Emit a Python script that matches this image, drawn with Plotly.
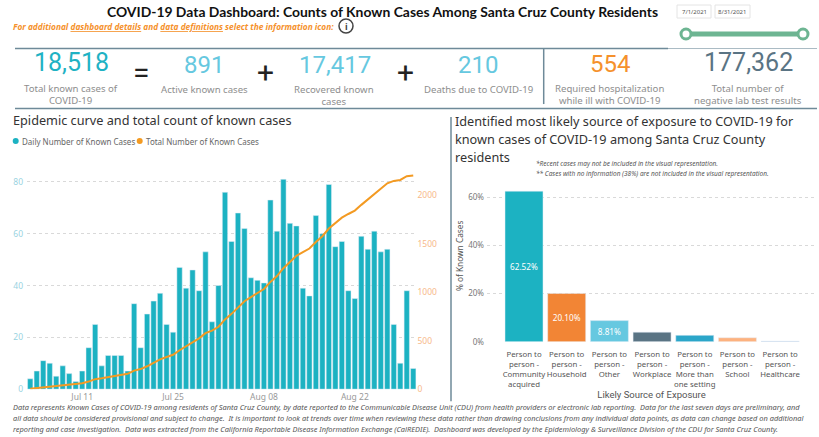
import pandas as pd
import plotly.graph_objects as go

# ---------- data ----------
start_date = "2021-07-03"
end_date = "2021-08-31"
daily_cases = [4, 7, 11, 10, 5, 9, 6, 3, 7, 16, 25, 9, 13, 13, 13, 7, 33, 16, 29, 34, 37, 25, 22,
               47, 39, 46, 38, 53, 26, 40, 76, 57, 68, 62, 43, 42, 41, 73, 61, 81, 64, 63, 39, 36,
               67, 60, 79, 55, 57, 38, 35, 59, 54, 61, 53, 54, 25, 10, 38, 8]
total_cases = [4, 11, 22, 32, 37, 46, 52, 55, 62, 78, 103, 112, 125, 138, 151, 158, 191, 207, 236,
               270, 307, 332, 354, 401, 440, 486, 524, 577, 603, 643, 719, 776, 844, 906, 949, 991,
               1032, 1105, 1166, 1247, 1311, 1374, 1413, 1449, 1516, 1576, 1655, 1710, 1767, 1805,
               1840, 1899, 1953, 2014, 2067, 2121, 2146, 2156, 2194, 2202]
date_ticks = ["2021-07-11", "2021-07-25", "2021-08-08", "2021-08-22"]
date_tick_labels = ["Jul 11", "Jul 25", "Aug 08", "Aug 22"]

source_labels = ["Person to<br>person -<br>Community<br>acquired", "Person to<br>person -<br>Household",
                 "Person to<br>person -<br>Other", "Person to<br>person -<br>Workplace",
                 "Person to<br>person -<br>More than<br>one setting", "Person to<br>person -<br>School",
                 "Person to<br>person -<br>Healthcare"]
source_values = [62.52, 20.10, 8.81, 4.0, 2.7, 1.7, 0.3]
source_text = ["62.52%", "20.10%", "8.81%", "", "", "", ""]
source_colors = ["#1CB2C2", "#F28535", "#66C8E0", "#5A7484", "#2BA6C9", "#FDB27F", "#A9C4E0"]
pct_ticks = [0, 20, 40, 60]
pct_tick_labels = ["0%", "20%", "40%", "60%"]

kpis = [("18,518", "Total known cases of<br>COVID-19", "#1FB2C4", 71, 62, 94),
        ("891", "Active known cases", "#66C8E0", 204, 65, 89),
        ("17,417", "Recovered known<br>cases", "#66C8E0", 335, 65, 95),
        ("210", "Deaths due to COVID-19", "#66C8E0", 478, 65, 89),
        ("554", "Required hospitalization<br>while ill with COVID-19", "#F5912C", 610, 64, 94),
        ("177,362", "Total number of<br>negative lab test results", "#5A7484", 748, 62, 94)]

footer_lines = [
    "Data represents Known Cases of COVID-19 among residents of Santa Cruz County, by date reported to the Communicable Disease Unit (CDU) from health providers or electronic lab reporting.  Data for the last seven days are preliminary, and",
    "all data should be considered provisional and subject to change.  It is important to look at trends over time when reviewing these data rather than drawing conclusions from any individual data points, as data can change based on additional",
    "reporting and case investigation.  Data was extracted from the California Reportable Disease Information Exchange (CalREDIE).  Dashboard was developed by the Epidemiology & Surveillance Division of the CDU for Santa Cruz County.",
]

# ---------- layout helpers ----------
W, H = 819, 437
FONT = "Noto Sans"
K = 1.012
px = lambda x: x / W
py = lambda y: 1 - y * K / H
dates = pd.date_range(start_date, end_date)

fig = go.Figure()
fig.add_trace(go.Bar(x=dates, y=daily_cases, name="Daily Number of Known Cases", marker_color="#1CB2C2",
                     width=0.82 * 86400000, xaxis="x", yaxis="y"))
fig.add_trace(go.Scatter(x=dates, y=total_cases, name="Total Number of Known Cases", mode="lines",
                         line=dict(color="#F39A22", width=2), xaxis="x", yaxis="y2"))
fig.add_trace(go.Bar(x=source_labels, y=source_values, text=source_text, textposition="inside",
                     insidetextanchor="middle", textangle=0, constraintext="none",
                     textfont=dict(color="white", size=8.2, family=FONT),
                     marker_color=source_colors, width=0.89, xaxis="x3", yaxis="y3", showlegend=False))

annotations, shapes = [], []


def text(x, y, s, size, color="#555", anchor="center", family=FONT, **kw):
    annotations.append(dict(xref="paper", yref="paper", x=px(x), y=py(y), text=s, showarrow=False,
                            xanchor=anchor, yanchor="middle", align=anchor if anchor != "center" else "center",
                            font=dict(size=size, color=color, family=family), borderpad=0, **kw))


def line(x0, y0, x1, y1, color="#6E8A99", width=1.5):
    shapes.append(dict(type="line", xref="paper", yref="paper", x0=px(x0), y0=py(y0), x1=px(x1), y1=py(y1),
                       line=dict(color=color, width=width)))


def circle(cx, cy, r, fill, edge, width=1):
    shapes.append(dict(type="circle", xref="paper", yref="paper", x0=px(cx - r), x1=px(cx + r),
                       y0=py(cy - r), y1=py(cy + r), fillcolor=fill, line=dict(color=edge, width=width)))


def box(x0, y0, x1, y1):
    shapes.append(dict(type="rect", xref="paper", yref="paper", x0=px(x0), x1=px(x1), y0=py(y0), y1=py(y1),
                       line=dict(color="#E4E4E4", width=1), fillcolor="white"))


# header
text(382, 11, "<b>COVID-19 Data Dashboard: Counts of Known Cases Among Santa Cruz County Residents</b>", 13.9, "#111", family="Lato")
text(12, 26, "<b><i>For additional <u>dashboard details</u> and <u>data definitions</u> select the information icon:</i></b>",
     8.3, "#F5912C", anchor="left")
circle(346, 26, 7, "white", "#444", 1.5)
text(346, 26, "<b>i</b>", 9, "#444")
box(677, 5, 711, 18)
box(715, 5, 750, 18)
text(694, 11.5, "7/1/2021", 6, "#555")
text(732.5, 11.5, "8/31/2021", 6, "#555")
line(686, 34, 803, 34, "#6DB592", 5)
circle(686, 34, 5, "white", "#6DB592", 3)
circle(803, 34, 5, "white", "#6DB592", 3)

# KPI band
line(15, 48.5, 668, 48.5)
line(668, 48.5, 817, 48.5, "#A9BAC4", 1)
line(15, 108.5, 817, 108.5)
line(543.7, 49, 543.7, 104)
for value, label, color, cx, vy, ly in kpis:
    text(cx, vy, value, 25 if value in ("18,518", "177,362") else 24, color, family="Roboto")
    text(cx - (1 if cx in (335, 610) else 0), ly, label, 9.6, "#8E8E8E")
text(141, 72, "=", 30, "#222", family="Roboto")
text(265, 72, "+", 30, "#222", family="Roboto")
text(405, 72, "+", 30, "#222", family="Roboto")

# section titles
line(451, 117, 451, 401)
text(12, 120, "Epidemic curve and total count of known cases", 12.7, "#333", anchor="left")
text(454, 121, "Identified most likely source of exposure to COVID-19 for", 12.7, "#333", anchor="left")
text(454, 139, "known cases of COVID-19 among Santa Cruz County", 12.7, "#333", anchor="left")
text(454, 157, "residents", 12.7, "#333", anchor="left")
text(535, 163, "<i>*Recent cases may not be included in the visual representation.</i>", 6.5, "#555", anchor="left")
text(535, 173, "<i>** Cases with no information (38%) are not included in the visual representation.</i>", 6.5, "#555", anchor="left")

# legend of the left chart
circle(15.7, 141, 3, "#1CB2C2", "#1CB2C2", 0)
text(21, 141, "Daily Number of Known Cases", 8, "#666", anchor="left")
circle(139.7, 141, 3, "#F39A22", "#F39A22", 0)
text(145, 141, "Total Number of Known Cases", 8, "#666", anchor="left")

# rotated axis caption of the right chart
text(459, 256, "% of Known Cases", 8.3, "#555", textangle=-90)

# footer
for y, s in zip((407, 418, 428.5), footer_lines):
    text(12, y, f"<i>{s}</i>", 7.43, "#555", anchor="left")

GRID = dict(showgrid=True, gridcolor="#D9D9D9", griddash="dot", gridwidth=1, zeroline=False, showline=False, ticks="")
fig.update_layout(
    width=W, height=H, margin=dict(l=0, r=0, t=0, b=0), paper_bgcolor="white", plot_bgcolor="white",
    showlegend=False, barmode="overlay", font=dict(family=FONT), annotations=annotations, shapes=shapes,
    xaxis=dict(domain=[px(27), px(416.5)], anchor="y", type="date", range=["2021-07-02 12:00", "2021-08-31 12:00"],
               tickvals=date_ticks, ticktext=date_tick_labels, showgrid=False, zeroline=False, ticks="",
               ticklabelstandoff=1, tickfont=dict(size=8.5, color="#999")),
    yaxis=dict(domain=[py(389), py(172)], anchor="x", range=[0, 83.8], tickvals=[0, 20, 40, 60, 80],
               ticklabelstandoff=3, tickfont=dict(size=8.5, color="#9AD3DF"), **GRID),
    yaxis2=dict(domain=[py(389), py(172)], anchor="x", overlaying="y", side="right", range=[0, 2237],
                tickvals=[0, 500, 1000, 1500, 2000], showgrid=False, zeroline=False, ticks="",
                tickfont=dict(size=8.5, color="#F7B98A")),
    xaxis3=dict(domain=[px(487), px(816)], anchor="y3", type="category", range=[-0.867, 6.84], showgrid=False,
                zeroline=False, ticks="", tickangle=0, ticklabelstandoff=6, tickfont=dict(size=7.8, color="#555"),
                title=dict(text="Likely Source of Exposure", font=dict(size=9.5, color="#555", family="Roboto"), standoff=0)),
    yaxis3=dict(domain=[py(341.7), py(188)], anchor="x3", range=[0, 63.8], tickvals=pct_ticks, ticktext=pct_tick_labels,
                tickfont=dict(size=8, color="#777"), ticklabelstandoff=2, **GRID),
)
fig.write_html("out.html", config=dict(displayModeBar=False), post_script="document.body.style.margin='0';")
